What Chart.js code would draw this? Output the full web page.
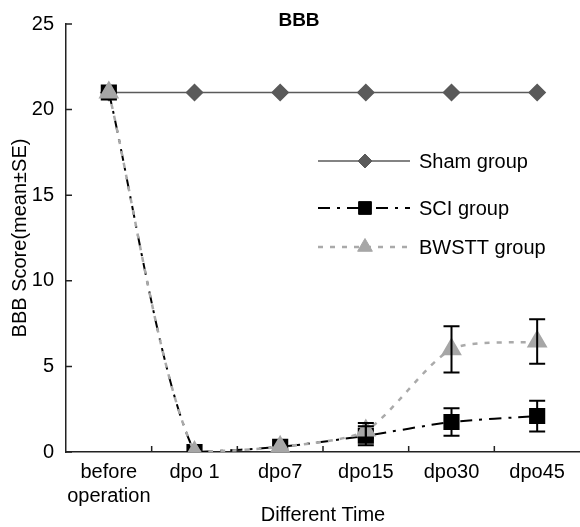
<!DOCTYPE html>
<html>
<head>
<meta charset="utf-8">
<script src="https://cdn.jsdelivr.net/npm/chart.js@4/dist/chart.umd.min.js"></script>
<style>
  html, body { margin: 0; padding: 0; background: #fff; }
  #wrap { width: 580px; height: 527px; position: relative; }
</style>
</head>
<body>
<div id="wrap"><canvas id="bbbChart" width="580" height="527"></canvas></div>
<script>
// Dados do gráfico
const categories = [["before", "operation"], "dpo 1", "dpo7", "dpo15", "dpo30", "dpo45"];
const shamValues = [21, 21, 21, 21, 21, 21];
const sciValues = [21, 0, 0.3, 0.95, 1.75, 2.1];
const sciErrors = [0, 0, 0.1, 0.55, 0.8, 0.9];
const bwsttValues = [21, 0, 0.3, 1.25, 6.0, 6.45];
const bwsttErrors = [0, 0, 0.1, 0.45, 1.35, 1.3];
const yTicks = [0, 5, 10, 15, 20, 25];

const FONT = "'Liberation Sans', Arial, sans-serif";

// Barras de erro
const errorBars = {
    id: "errorBars",
    afterDatasetsDraw(chart) {
        const ctx = chart.ctx;
        const x = chart.scales.x, y = chart.scales.y;
        const sets = [[sciValues, sciErrors], [bwsttValues, bwsttErrors]];
        ctx.save();
        ctx.strokeStyle = "#000";
        ctx.lineWidth = 2;
        sets.forEach(([vals, errs]) => {
            vals.forEach((v, i) => {
                if (!errs[i] || errs[i] < 0.3) return;
                const px = x.getPixelForValue(i);
                const top = y.getPixelForValue(v + errs[i]);
                const bot = y.getPixelForValue(v - errs[i]);
                ctx.beginPath();
                ctx.moveTo(px, top); ctx.lineTo(px, bot);
                ctx.moveTo(px - 8, top); ctx.lineTo(px + 8, top);
                ctx.moveTo(px - 8, bot); ctx.lineTo(px + 8, bot);
                ctx.stroke();
            });
        });
        ctx.restore();
    }
};

// Marcas dos eixos para dentro, título e legenda
const decorations = {
    id: "decorations",
    afterDraw(chart) {
        const ctx = chart.ctx;
        const area = chart.chartArea;
        const x = chart.scales.x, y = chart.scales.y;
        ctx.save();
        ctx.strokeStyle = "#222";
        ctx.lineWidth = 1.5;
        ctx.beginPath();
        yTicks.forEach(t => {
            const py = y.getPixelForValue(t);
            ctx.moveTo(area.left, py); ctx.lineTo(area.left + 6, py);
        });
        for (let i = 1; i < categories.length; i++) {
            const px = (x.getPixelForValue(i - 1) + x.getPixelForValue(i)) / 2;
            ctx.moveTo(px, area.bottom); ctx.lineTo(px, area.bottom - 6);
        }
        ctx.stroke();

        // título
        ctx.fillStyle = "#000";
        ctx.font = "bold 19px " + FONT;
        ctx.textAlign = "center";
        ctx.textBaseline = "middle";
        ctx.fillText("BBB", 299, 21);

        // legenda
        const items = chart.data.datasets;
        const rows = [161, 208, 247];
        items.forEach((ds, k) => {
            const ly = rows[k];
            ctx.save();
            ctx.strokeStyle = ds.borderColor;
            ctx.lineWidth = ds.borderWidth;
            ctx.setLineDash(ds.borderDash || []);
            ctx.beginPath();
            ctx.moveTo(318, ly); ctx.lineTo(410, ly);
            ctx.stroke();
            ctx.restore();
            const opts = {
                pointStyle: ds.pointStyle, radius: ds.pointRadius - 1, rotation: 0,
                borderWidth: 1
            };
            ctx.fillStyle = ds.pointBackgroundColor;
            ctx.strokeStyle = ds.pointBorderColor;
            ctx.lineWidth = 1;
            Chart.helpers.drawPoint(ctx, opts, 365, ly);
            ctx.fillStyle = "#000";
            ctx.font = "20px " + FONT;
            ctx.textAlign = "left";
            ctx.fillText(ds.label, 419, ly + 1);
        });
        ctx.restore();
    }
};

const ctx = document.getElementById("bbbChart").getContext("2d");
new Chart(ctx, {
    type: "line",
    data: {
        labels: categories,
        datasets: [
            {
                label: "Sham group",
                data: shamValues,
                borderColor: "#5a5a5a",
                borderWidth: 1.5,
                pointStyle: "rectRot",
                pointRadius: 8,
                pointBackgroundColor: "#5a5a5a",
                pointBorderColor: "#5a5a5a",
                tension: 0,
                order: 3
            },
            {
                label: "SCI group",
                data: sciValues,
                borderColor: "#000",
                borderWidth: 2,
                borderDash: [12, 7, 3, 7],
                pointStyle: "rect",
                pointRadius: 10,
                pointBackgroundColor: "#000",
                pointBorderColor: "#000",
                tension: 0.25,
                order: 2
            },
            {
                label: "BWSTT group",
                data: bwsttValues,
                borderColor: "#aaa",
                borderWidth: 2.5,
                borderDash: [5, 7],
                pointStyle: "triangle",
                pointRadius: 9.5,
                pointBackgroundColor: "#a6a6a6",
                pointBorderColor: "#a6a6a6",
                tension: 0.25,
                order: 1
            }
        ]
    },
    options: {
        responsive: false,
        animation: false,
        layout: { autoPadding: false, padding: { top: 24, right: 0, left: 0, bottom: 0 } },
        plugins: {
            legend: { display: false },
            title: { display: false },
            tooltip: { enabled: false }
        },
        scales: {
            x: {
                offset: true,
                grid: { display: false, drawTicks: false },
                border: { display: true, color: "#222", width: 1.5 },
                ticks: { color: "#000", font: { family: FONT, size: 20 }, padding: 8, maxRotation: 0, autoSkip: false },
                title: { display: true, text: "Different Time", color: "#000", font: { family: FONT, size: 20 }, padding: { top: 0, bottom: 0 } },
                afterFit(scale) { scale.height = 75; scale.paddingLeft = 0; scale.paddingRight = 0; }
            },
            y: {
                min: 0,
                max: 25,
                afterBuildTicks(scale) { scale.ticks = yTicks.map(v => ({ value: v })); },
                grid: { display: false, drawTicks: false },
                border: { display: true, color: "#222", width: 1.5 },
                ticks: { color: "#000", font: { family: FONT, size: 20 }, padding: 12 },
                title: { display: true, text: "BBB Score(mean±SE)", color: "#000", font: { family: FONT, size: 20 }, padding: { top: 8, bottom: 0 } },
                afterFit(scale) { scale.width = 66; scale.paddingTop = 0; scale.paddingBottom = 0; }
            }
        }
    },
    plugins: [errorBars, decorations]
});
</script>
</body>
</html>
